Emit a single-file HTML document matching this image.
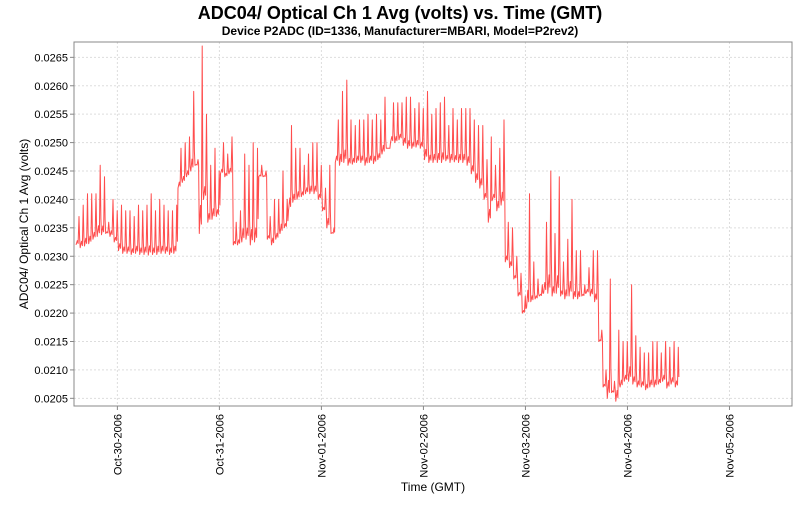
<!DOCTYPE html>
<html><head><meta charset="utf-8"><style>
body{margin:0;background:#fff;width:800px;height:500px;overflow:hidden;font-family:"Liberation Sans",sans-serif}
</style></head><body>
<svg id="chart" width="800" height="500" xmlns="http://www.w3.org/2000/svg" font-family="Liberation Sans, sans-serif">
<text x="400" y="19" text-anchor="middle" font-size="18" font-weight="bold">ADC04/ Optical Ch 1 Avg (volts) vs. Time (GMT)</text>
<text x="400" y="35" text-anchor="middle" font-size="12" font-weight="bold">Device P2ADC (ID=1336, Manufacturer=MBARI, Model=P2rev2)</text>
<rect x="74" y="42" width="718" height="364" fill="#fff" stroke="none"/>
<g id="grid"></g>
<g id="series"></g>
<rect x="74" y="42" width="718" height="364" fill="none" stroke="#888" stroke-width="1"/>
<g id="yaxis"></g>
<g id="xaxis"></g>
<text transform="translate(28,224) rotate(-90)" text-anchor="middle" font-size="12">ADC04/ Optical Ch 1 Avg (volts)</text>
<text x="433" y="491" text-anchor="middle" font-size="12">Time (GMT)</text>
</svg>
<script>
// data: hourly cycle; baseline and hourly spike peak, values in units of 1e-5 volts
const startDay = -0.4057; // days relative to Oct-30-2006 00:00
const cycleHours = 1.0;
const baseVals = [2320,2315,2318,2322,2330,2335,2338,2340,2335,2325,2310,2305,2305,2303,2305,2303,2303,2302,2303,2303,2305,2305,2303,2305,
2420,2430,2440,2450,2460,2340,2400,2360,2365,2370,
2445,2440,2445,2320,2320,2325,2330,2320,2325,2440,2440,2330,2320,2330,2340,2350,2380,2395,2400,2405,2410,2410,2410,2400,2380,2350,2340,
2465,2460,2465,2460,2462,2465,2465,2460,2465,2463,2470,2480,2490,2500,2500,2505,2495,2490,2490,2492,2490,2470,2465,2465,2465,2465,2468,2465,2466,2465,2465,2460,2445,2430,2420,2400,2360,2400,2380,2390,
2290,2280,2260,2230,2200,2210,2220,2225,2230,2235,2235,2230,2235,2230,2225,2230,2225,2225,2230,2235,2230,2220,
2150,2070,2050,2060,2045,2070,2080,2080,2075,2070,2070,2065,2070,2070,2075,2080,2068,2075,2070];
const peakVals = [2370,2390,2410,2410,2410,2460,2440,2360,2400,2380,2390,2380,2380,2370,2390,2380,2390,2410,2380,2400,2390,2380,2380,2390,
2490,2500,2510,2590,2470,2670,2550,2460,2490,2450,
2500,2480,2510,2360,2380,2480,2460,2500,2490,2460,2450,2370,2400,2400,2450,2400,2530,2490,2490,2460,2480,2500,2500,2460,2420,2460,2350,
2540,2590,2610,2540,2530,2540,2540,2550,2540,2550,2540,2580,2490,2570,2570,2570,2580,2580,2560,2570,2560,2590,2550,2560,2570,2580,2530,2560,2540,2560,2560,2560,2540,2530,2530,2470,2510,2460,2490,2540,
2360,2350,2300,2270,2230,2410,2290,2260,2250,2360,2450,2340,2440,2290,2330,2400,2310,2310,2250,2280,2310,2310,
2170,2100,2260,2080,2170,2150,2150,2250,2160,2140,2130,2130,2150,2150,2130,2150,2140,2150,2140];
const yTicks = [0.0205,0.0210,0.0215,0.0220,0.0225,0.0230,0.0235,0.0240,0.0245,0.0250,0.0255,0.0260,0.0265];
const xTickDays = [0,1,2,3,4,5,6];
const xTickLabels = ["Oct-30-2006","Oct-31-2006","Nov-01-2006","Nov-02-2006","Nov-03-2006","Nov-04-2006","Nov-05-2006"];

const NS="http://www.w3.org/2000/svg";
const L=74,R=792,T=42,B=406;
const dMin=-0.4252, dMax=(R-115.5)/102.3;
const vMin=0.020365, vMax=0.02677;
function xS(d){return L+(d-dMin)/(dMax-dMin)*(R-L);}
function yS(v){return B-(v-vMin)/(vMax-vMin)*(B-T);}
function mk(tag,attrs,parent){const e=document.createElementNS(NS,tag);for(const k in attrs)e.setAttribute(k,attrs[k]);parent.appendChild(e);return e;}
const grid=document.getElementById('grid'),ya=document.getElementById('yaxis'),xa=document.getElementById('xaxis'),ser=document.getElementById('series');
yTicks.forEach(v=>{const y=yS(v);
 const g=mk('line',{x1:L,x2:R,y1:y,y2:y,stroke:'#ddd','stroke-dasharray':'2,2'},grid);
 
 
 const tk=mk('line',{x1:L-4,x2:L,y1:y,y2:y,stroke:'#888'},ya);
 
 
 const t=mk('text',{x:L-6,y:y+4,'text-anchor':'end','font-size':'11'},ya);
 t.textContent=v.toFixed(4);
 
 
});
xTickDays.forEach((d,i)=>{const x=xS(d);
 const g=mk('line',{x1:x,x2:x,y1:T,y2:B,stroke:'#ddd','stroke-dasharray':'2,2'},grid);
 
 
 const tk=mk('line',{x1:x,x2:x,y1:B,y2:B+4,stroke:'#888'},xa);
 
 
 const t=mk('text',{transform:`translate(${x+4},${B+8}) rotate(-90)`,'text-anchor':'end','font-size':'11'},xa);
 t.textContent=xTickLabels[i];
 
 
});
const pts=[];
for(let i=0;i<baseVals.length;i++){
 const d=startDay+i*cycleHours/24, h=cycleHours/24;
 const bv=baseVals[i]*1e-5, pv=peakVals[i]*1e-5;
 pts.push([xS(d),yS(bv)]);
 pts.push([xS(d+0.3*h),yS(bv+0.15*(pv-bv))]);
 pts.push([xS(d+0.5*h),yS(bv+0.05*(pv-bv))]);
 pts.push([xS(d+0.7*h),yS(pv)]);
 pts.push([xS(d+0.85*h),yS(bv+0.25*(pv-bv))]);
}
const p=mk('polyline',{points:pts.map(q=>q[0].toFixed(1)+','+q[1].toFixed(1)).join(' '),fill:'none',stroke:'#ff4d4d','stroke-width':'1','stroke-linejoin':'round'},ser);


</script>
</body></html>
